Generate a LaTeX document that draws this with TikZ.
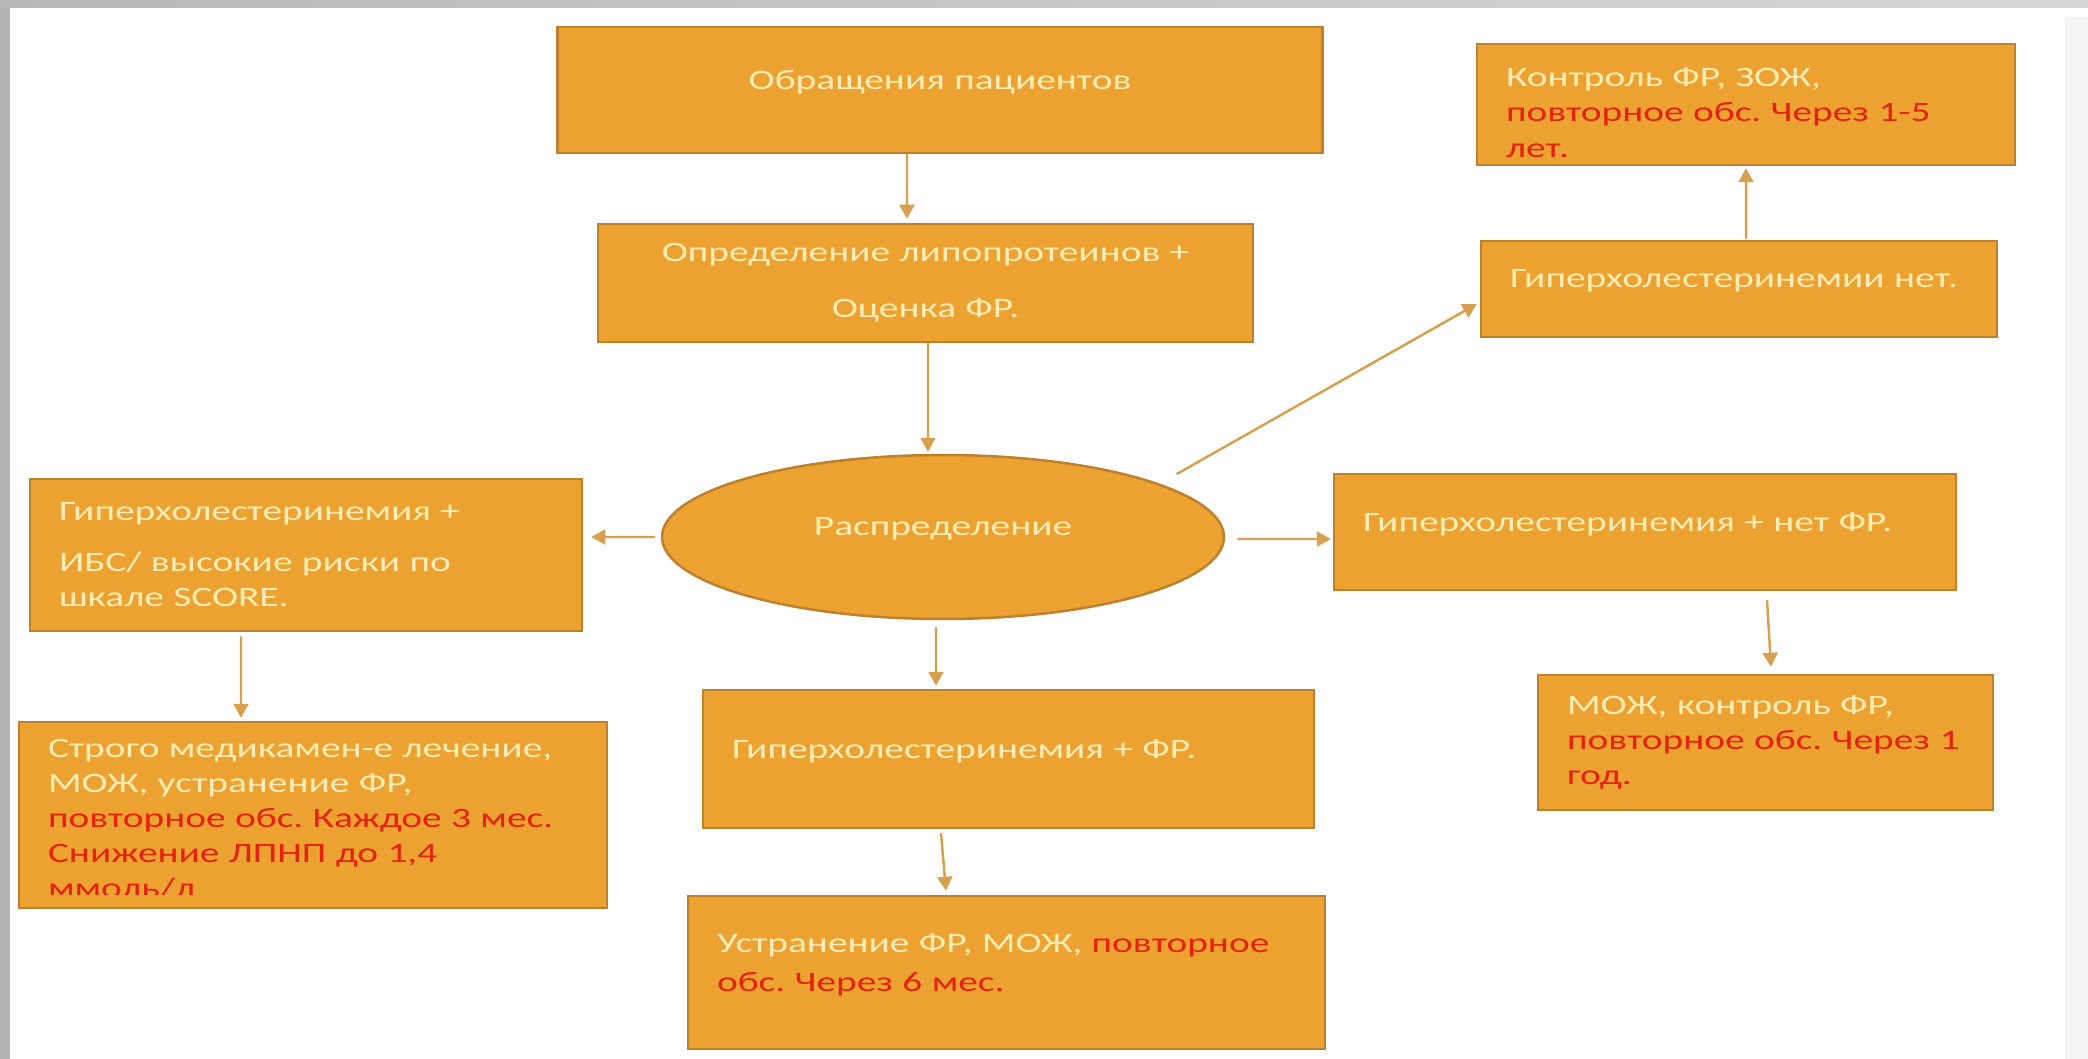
\documentclass[tikz,border=0pt]{standalone}
\usepackage{fontspec}
\setmainfont{Carlito}[FakeStretch=1.4]
\frenchspacing
\usetikzlibrary{arrows.meta,shapes.geometric}
\definecolor{boxfill}{RGB}{236,162,48}
\definecolor{boxline}{RGB}{190,128,46}
\definecolor{txtcream}{RGB}{253,236,182}
\definecolor{txtred}{RGB}{228,34,14}
\definecolor{arrowc}{RGB}{214,160,78}
\definecolor{frameleft}{RGB}{176,178,180}
\definecolor{frametop}{RGB}{184,184,184}
\definecolor{frametopr}{RGB}{214,214,214}
\definecolor{frameright}{RGB}{244,244,244}

\begin{document}
\begin{tikzpicture}[x=0.1mm,y=-0.1mm,
    block/.style={draw=boxline,line width=0.25mm,fill=boxfill,text=txtcream,font=\fontsize{8pt}{10pt}\selectfont,inner xsep=2.9mm,inner ysep=0pt,align=left},
    oval/.style={ellipse,draw=boxline,line width=0.25mm,fill=boxfill,text=txtcream,font=\fontsize{8pt}{10pt}\selectfont,inner sep=0pt},
    link/.style={-{Triangle[width=1.5mm,length=1.4mm]},line width=0.7pt,arrowc}
  ]
    % slide frame
    \useasboundingbox (0,0) rectangle (2088,1059);
    \fill[white] (0,0) rectangle (2088,1059);
    \fill[frameleft] (0,0) rectangle (10,1059);
    \shade[left color=frametop,right color=frametopr] (0,0) rectangle (2088,8);
    \fill[frameright] (2065,17) rectangle (2088,1059);

    % top of the chart
    \node[block,minimum width=76.5mm,minimum height=12.6mm,text width=70.7mm,align=center,text depth=5.8pt] (visit) at (940,90) {Обращения пациентов};
    \node[block,minimum width=65.5mm,minimum height=11.8mm,text width=59.7mm,align=center] (lipid) at (925.5,283) {Определение липопротеинов +\\[6pt]Оценка ФР.};
    \node[oval,minimum width=56.2mm,minimum height=16.4mm,text depth=5.8pt] (sort) at (943,537) {Распределение};

    % left branch
    \node[block,minimum width=55.2mm,minimum height=15.2mm,text width=49.4mm] (ibs) at (306,555) {Гиперхолестеринемия +\\[4.5pt]ИБС/ высокие риски по\\шкале SCORE.};
    \node[block,minimum width=58.8mm,minimum height=18.6mm] (strict) at (313,815) {};
    \begin{scope}
      \clip ([yshift=1.5mm]strict.south west) rectangle (strict.north east);
      \node[block,draw=none,fill=none,anchor=north west,text width=53mm] (stricttext) at ([yshift=-1.7mm]strict.north west) {Строго медикамен-е лечение,\\МОЖ, устранение ФР,\\\textcolor{txtred}{повторное обс. Каждое 3 мес.}\\\textcolor{txtred}{Снижение ЛПНП до 1,4}\\\textcolor{txtred}{ммоль/л}};
    \end{scope}

    % middle branch
    \node[block,minimum width=61.1mm,minimum height=13.8mm,text width=55.3mm,text depth=5.8pt] (rf) at (1008.5,759) {Гиперхолестеринемия + ФР.};
    \node[block,minimum width=63.7mm,minimum height=15.3mm,text width=57.9mm] (rfplan) at (1006.5,972.5) {Устранение ФР, МОЖ, \textcolor{txtred}{повторное}\\[1pt]\textcolor{txtred}{обс. Через 6 мес.}\rule[-5.8pt]{0pt}{5.8pt}};

    % right branch
    \node[block,minimum width=62.2mm,minimum height=11.6mm,text width=56.4mm,text depth=5.8pt] (norf) at (1645,532) {Гиперхолестеринемия + нет ФР.};
    \node[block,minimum width=45.5mm,minimum height=13.5mm,text width=39.7mm] (norfplan) at (1765.5,742.5) {МОЖ, контроль ФР,\\\mbox{\textcolor{txtred}{повторное обс. Через 1}}\\\textcolor{txtred}{год.}};
    \node[block,minimum width=51.6mm,minimum height=9.6mm,text width=45.8mm,text depth=5.8pt] (nohc) at (1739,289) {Гиперхолестеринемии нет.};
    \node[block,minimum width=53.8mm,minimum height=12.1mm,text width=48mm] (healthy) at (1746,104.5) {\rule{0pt}{10pt}Контроль ФР, ЗОЖ,\\\textcolor{txtred}{повторное обс. Через 1-5}\\\textcolor{txtred}{лет.}};

    % arrows
    \draw[link] ([xshift=-3.3mm]visit.south) -- ([xshift=-1.85mm,yshift=0.4mm]lipid.north);
    \draw[link] ([xshift=0.25mm]lipid.south) -- ([xshift=-1.5mm,yshift=0.2mm]sort.north);
    \draw[link] ([xshift=-0.6mm]sort.west) -- ([xshift=0.8mm,yshift=1.8mm]ibs.east);
    \draw[link] ([xshift=1.2mm,yshift=-0.2mm]sort.east) -- ([xshift=-0.2mm,yshift=-0.7mm]norf.west);
    \draw[link] ([xshift=-0.7mm,yshift=-0.7mm]sort.south) -- ([xshift=-7.25mm,yshift=0.3mm]rf.north);
    \draw[link] ([shift={(3.4mm,0.4mm)}]sort.north east) -- ([shift={(-0.3mm,-1.5mm)}]nohc.west);
    \draw[link] ([xshift=0.7mm,yshift=0.1mm]nohc.north) -- ([yshift=-0.2mm]healthy.south);
    \draw[link] ([xshift=-6.5mm,yshift=-0.4mm]ibs.south) -- ([xshift=-7.2mm,yshift=0.3mm]strict.north);
    \draw[link] ([xshift=12.2mm,yshift=-0.9mm]norf.south) -- ([xshift=0.55mm,yshift=0.7mm]norfplan.north);
    \draw[link] ([xshift=-6.75mm,yshift=-0.4mm]rf.south) -- ([xshift=-6.05mm,yshift=0.4mm]rfplan.north);
\end{tikzpicture}
\end{document}
